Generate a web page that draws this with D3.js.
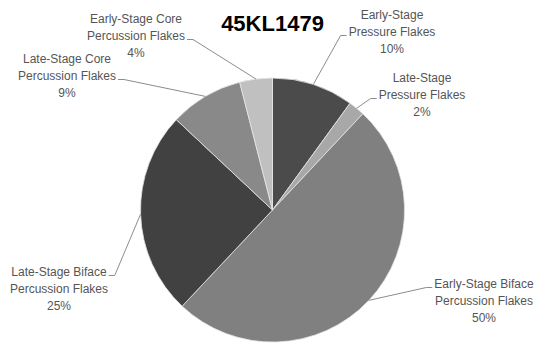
<!DOCTYPE html>
<html>
<head>
<meta charset="utf-8">
<script src="https://cdn.jsdelivr.net/npm/d3@7"></script>
<style>
  body { margin: 0; background: #fff; }
  svg { display: block; }
</style>
</head>
<body>
<svg id="chart" width="537" height="346"></svg>
<script>
/* Pie of flake types for site 45KL1479, labels outside with leader lines */

const title = '45KL1479';
const categories = [
    ['Early-Stage', 'Pressure Flakes'],
    ['Late-Stage', 'Pressure Flakes'],
    ['Early-Stage Biface', 'Percussion Flakes'],
    ['Late-Stage Biface', 'Percussion Flakes'],
    ['Late-Stage Core', 'Percussion Flakes'],
    ['Early-Stage Core', 'Percussion Flakes']
];
const values = [10, 2, 50, 25, 9, 4];

// layout: slice fills and label centres (x, y of first line), elbow side
const fills = ['#4b4b4b', '#a8a8a8', '#808080', '#414141', '#898989', '#c0c0c0'];
const labelPos = [
    {x: 392, y: 17, anchorLine: 1, side: 'left'},
    {x: 422, y: 80, anchorLine: 1, side: 'left'},
    {x: 484, y: 286, anchorLine: 0, side: 'left'},
    {x: 59, y: 274, anchorLine: 0, side: 'right'},
    {x: 67, y: 61, anchorLine: 1, side: 'right'},
    {x: 136, y: 21, anchorLine: 1, side: 'right'}
];

const cx = 272.5, cy = 210, R = 132;
const LINE = 17;
const SHIFT = 1.5; // baseline offset from the label's y

const svg = d3.select('#chart');

svg.append('text')
    .attr('x', 272.5)
    .attr('y', 31)
    .attr('text-anchor', 'middle')
    .attr('font-family', 'Liberation Sans, Arial, sans-serif')
    .attr('font-weight', 'bold')
    .attr('font-size', 22)
    .attr('fill', '#000')
    .text(title);

const pie = d3.pie().sort(null).value(d => d);
const arcs = pie(values);
const arc = d3.arc().innerRadius(0).outerRadius(R);

const g = svg.append('g').attr('transform', `translate(${cx},${cy})`);
g.selectAll('path')
    .data(arcs)
    .join('path')
    .attr('d', arc)
    .attr('fill', (d, i) => fills[i])
    .attr('stroke', '#e6e6e6')
    .attr('stroke-width', 0.8);

const total = d3.sum(values);
const labels = svg.append('g')
    .attr('font-family', 'Liberation Sans, Arial, sans-serif')
    .attr('font-size', 12)
    .attr('fill', '#555');

arcs.forEach((a, i) => {
    const p = labelPos[i];
    const lines = categories[i].concat([Math.round(values[i] / total * 100) + '%']);
    const t = labels.append('text')
        .attr('text-anchor', 'middle');
    lines.forEach((s, k) => {
        t.append('tspan')
            .attr('x', p.x)
            .attr('y', p.y + k * LINE + SHIFT)
            .text(s);
    });

    // leader line: edge of slice -> elbow -> next to the anchor line of text
    const mid = (a.startAngle + a.endAngle) / 2;
    const ex = cx + R * Math.sin(mid), ey = cy - R * Math.cos(mid);
    const w = t.selectAll('tspan').nodes()[p.anchorLine].getComputedTextLength();
    const ty = p.y + p.anchorLine * LINE + SHIFT;
    const tx = p.side === 'left' ? p.x - w / 2 - 2 : p.x + w / 2 + 2;
    const bx = p.side === 'left' ? tx - 6 : tx + 6;
    svg.append('polyline')
        .attr('points', [[ex, ey], [bx, ty], [tx, ty]].map(q => q.join(',')).join(' '))
        .attr('fill', 'none')
        .attr('stroke', '#8c8c8c')
        .attr('stroke-width', 1);
});
</script>
</body>
</html>
